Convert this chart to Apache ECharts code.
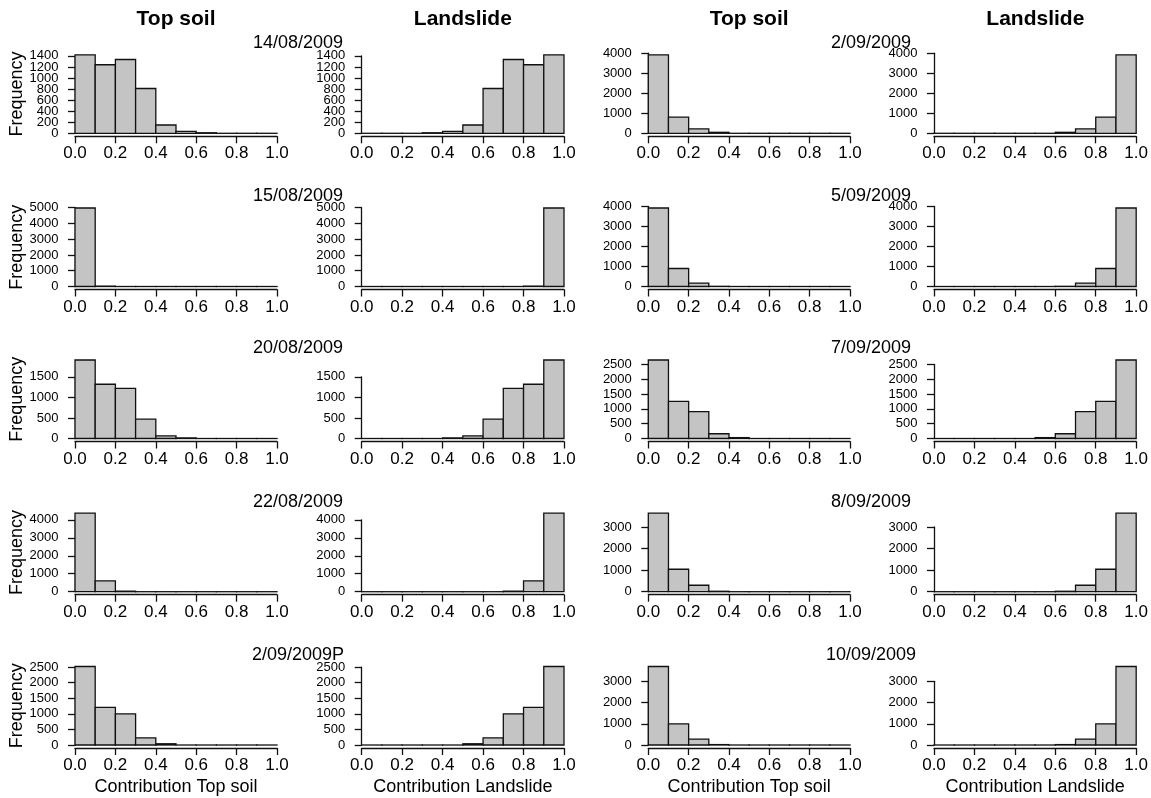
<!DOCTYPE html>
<html>
<head>
<meta charset="utf-8">
<script src="https://cdn.jsdelivr.net/npm/echarts@6/dist/echarts.min.js"></script>
<style>
html,body{margin:0;padding:0;background:#fff;}
#chart{width:1151px;height:798px;}
</style>
</head>
<body>
<div id="chart"></div>
<script>
// ---------------- DATA ----------------
const binEdges = [0, 0.1, 0.2, 0.3, 0.4, 0.5, 0.6, 0.7, 0.8, 0.9, 1.0];

const datesLeft  = ['14/08/2009', '15/08/2009', '20/08/2009', '22/08/2009', '2/09/2009P'];
const datesRight = ['2/09/2009', '5/09/2009', '7/09/2009', '8/09/2009', '10/09/2009'];

// Top soil contribution counts (left block)
const topsoil_14_08  = [1420, 1240, 1335, 810, 150, 35, 10, 0, 0, 0];
const topsoil_15_08  = [4975, 25, 0, 0, 0, 0, 0, 0, 0, 0];
const topsoil_20_08  = [1910, 1320, 1220, 470, 65, 15, 0, 0, 0, 0];
const topsoil_22_08  = [4370, 600, 30, 0, 0, 0, 0, 0, 0, 0];
const topsoil_02_09P = [2520, 1210, 1000, 230, 40, 0, 0, 0, 0, 0];
// Landslide contribution counts (left block)
const landslide_14_08  = [0, 0, 0, 10, 35, 150, 810, 1335, 1240, 1420];
const landslide_15_08  = [0, 0, 0, 0, 0, 0, 0, 0, 25, 4975];
const landslide_20_08  = [0, 0, 0, 0, 15, 65, 470, 1220, 1320, 1910];
const landslide_22_08  = [0, 0, 0, 0, 0, 0, 0, 30, 600, 4370];
const landslide_02_09P = [0, 0, 0, 0, 0, 40, 230, 1000, 1210, 2520];

// Top soil contribution counts (right block)
const topsoil_02_09 = [3920, 810, 220, 50, 0, 0, 0, 0, 0, 0];
const topsoil_05_09 = [3920, 900, 170, 10, 0, 0, 0, 0, 0, 0];
const topsoil_07_09 = [2650, 1250, 910, 160, 30, 0, 0, 0, 0, 0];
const topsoil_08_09 = [3640, 1040, 300, 20, 0, 0, 0, 0, 0, 0];
const topsoil_10_09 = [3700, 1000, 280, 20, 0, 0, 0, 0, 0, 0];
// Landslide contribution counts (right block)
const landslide_02_09 = [0, 0, 0, 0, 0, 0, 50, 220, 810, 3920];
const landslide_05_09 = [0, 0, 0, 0, 0, 0, 10, 170, 900, 3920];
const landslide_07_09 = [0, 0, 0, 0, 0, 30, 160, 910, 1250, 2650];
const landslide_08_09 = [0, 0, 0, 0, 0, 0, 20, 300, 1040, 3640];
const landslide_10_09 = [0, 0, 0, 0, 0, 0, 20, 280, 1000, 3700];

// y tick labels per row (left block / right block)
const yTicksLeft = [
  [0, 200, 400, 600, 800, 1000, 1200, 1400],
  [0, 1000, 2000, 3000, 4000, 5000],
  [0, 500, 1000, 1500],
  [0, 1000, 2000, 3000, 4000],
  [0, 500, 1000, 1500, 2000, 2500]
];
const yTicksRight = [
  [0, 1000, 2000, 3000, 4000],
  [0, 1000, 2000, 3000, 4000],
  [0, 500, 1000, 1500, 2000, 2500],
  [0, 1000, 2000, 3000],
  [0, 1000, 2000, 3000]
];
const xTicks = [0, 0.2, 0.4, 0.6, 0.8, 1.0];

const colTitles = ['Top soil', 'Landslide', 'Top soil', 'Landslide'];
const xAxisTitles = ['Contribution Top soil', 'Contribution Landslide', 'Contribution Top soil', 'Contribution Landslide'];
const yAxisTitle = 'Frequency';

const panelCounts = [
  [topsoil_14_08,  landslide_14_08,  topsoil_02_09, landslide_02_09],
  [topsoil_15_08,  landslide_15_08,  topsoil_05_09, landslide_05_09],
  [topsoil_20_08,  landslide_20_08,  topsoil_07_09, landslide_07_09],
  [topsoil_22_08,  landslide_22_08,  topsoil_08_09, landslide_08_09],
  [topsoil_02_09P, landslide_02_09P, topsoil_10_09, landslide_10_09]
];

// ---------------- LAYOUT ----------------
const colX0 = [75, 361.7, 648.3, 934];
const colX1 = [277, 564, 850, 1136.7];
const rowY0 = [133.3, 286.5, 438.5, 591.7, 745];
const maxBarPx = 78.5;
const Y_OFFSET = 7.5;
const Y_LABEL_GAP = 9;
const FONT = '"Liberation Sans", Arial, Helvetica, sans-serif';
const INK = '#111';

const grids = [], xAxes = [], yAxes = [], series = [], graphics = [];

let idx = 0;
for (let r = 0; r < 5; r++) {
  for (let c = 0; c < 4; c++) {
    const counts = panelCounts[r][c];
    const ticks = c < 2 ? yTicksLeft[r] : yTicksRight[r];
    const M = Math.max.apply(null, counts);
    const T = ticks[ticks.length - 1];
    const step = ticks[1] - ticks[0];
    const hT = T * maxBarPx / M;
    grids.push({
      left: colX0[c], top: rowY0[r] - hT,
      width: colX1[c] - colX0[c], height: hT,
      containLabel: false
    });
    const lastRow = r === 4;
    xAxes.push({
      gridIndex: idx, type: 'value', min: xTicks[0], max: xTicks[xTicks.length - 1], interval: xTicks[1] - xTicks[0],
      offset: 3,
      axisLine: { show: true, onZero: false, lineStyle: { color: INK, width: 1.3 } },
      axisTick: { show: true, length: 7, lineStyle: { color: INK, width: 1.3 } },
      axisLabel: { show: true, color: '#000', fontSize: 17, fontFamily: FONT, margin: 9,
        showMinLabel: true, showMaxLabel: true, hideOverlap: false,
        formatter: v => v.toFixed(1) },
      splitLine: { show: false },
      name: lastRow ? xAxisTitles[c] : '',
      nameLocation: 'middle', nameGap: 30,
      nameTextStyle: { color: '#000', fontSize: 18, fontFamily: FONT }
    });
    yAxes.push({
      gridIndex: idx, type: 'value', min: 0, max: T, interval: step,
      offset: Y_OFFSET,
      axisLine: { show: true, lineStyle: { color: INK, width: 1.3 } },
      axisTick: { show: true, length: 7, lineStyle: { color: INK, width: 1.3 } },
      axisLabel: { show: false },
      splitLine: { show: false }
    });
    // histogram bars
    series.push({
      type: 'custom',
      xAxisIndex: idx, yAxisIndex: idx,
      clip: false,
      silent: true,
      data: counts.map((v, i) => [binEdges[i], binEdges[i + 1], v]),
      encode: { x: [0, 1], y: 2 },
      renderItem: function (params, api) {
        const p0 = api.coord([api.value(0), 0]);
        const p1 = api.coord([api.value(1), api.value(2)]);
        return {
          type: 'rect',
          shape: { x: p0[0], y: p1[1], width: p1[0] - p0[0], height: Math.max(p0[1] - p1[1], 0.01) },
          style: { fill: '#c4c4c4', stroke: INK, lineWidth: 1.3 }
        };
      }
    });
    // y tick labels, placed through the y scale
    series.push({
      type: 'custom',
      xAxisIndex: idx, yAxisIndex: idx,
      clip: false,
      silent: true,
      data: ticks.map(v => [0, v]),
      encode: { x: 0, y: 1 },
      renderItem: function (params, api) {
        const p = api.coord([0, api.value(1)]);
        return {
          type: 'text',
          x: p[0] - Y_OFFSET - Y_LABEL_GAP, y: p[1],
          style: { text: String(api.value(1)), fill: '#000', font: '13px ' + FONT,
            textAlign: 'right', textVerticalAlign: 'middle' }
        };
      }
    });
    idx++;
  }
  // date labels
  graphics.push({ type: 'text', x: 298, y: rowY0[r] - 90,
    style: { text: datesLeft[r], fill: '#000', font: '18px ' + FONT, textAlign: 'center', textVerticalAlign: 'middle' } });
  graphics.push({ type: 'text', x: 871, y: rowY0[r] - 90,
    style: { text: datesRight[r], fill: '#000', font: '18px ' + FONT, textAlign: 'center', textVerticalAlign: 'middle' } });
  // Frequency label
  graphics.push({ type: 'text', x: 17.5, y: rowY0[r] + 3.1 - 42.4, rotation: Math.PI / 2,
    style: { text: yAxisTitle, fill: '#000', font: '18px ' + FONT, textAlign: 'center', textVerticalAlign: 'middle' } });
}
// column titles
for (let c = 0; c < 4; c++) {
  graphics.push({ type: 'text', x: (colX0[c] + colX1[c]) / 2, y: 19,
    style: { text: colTitles[c], fill: '#000', font: 'bold 21px ' + FONT, textAlign: 'center', textVerticalAlign: 'middle' } });
}

const chart = echarts.init(document.getElementById('chart'), null, { renderer: 'canvas' });
chart.setOption({
  backgroundColor: '#fff',
  animation: false,
  grid: grids,
  xAxis: xAxes,
  yAxis: yAxes,
  series: series,
  graphic: graphics
});
</script>
</body>
</html>
